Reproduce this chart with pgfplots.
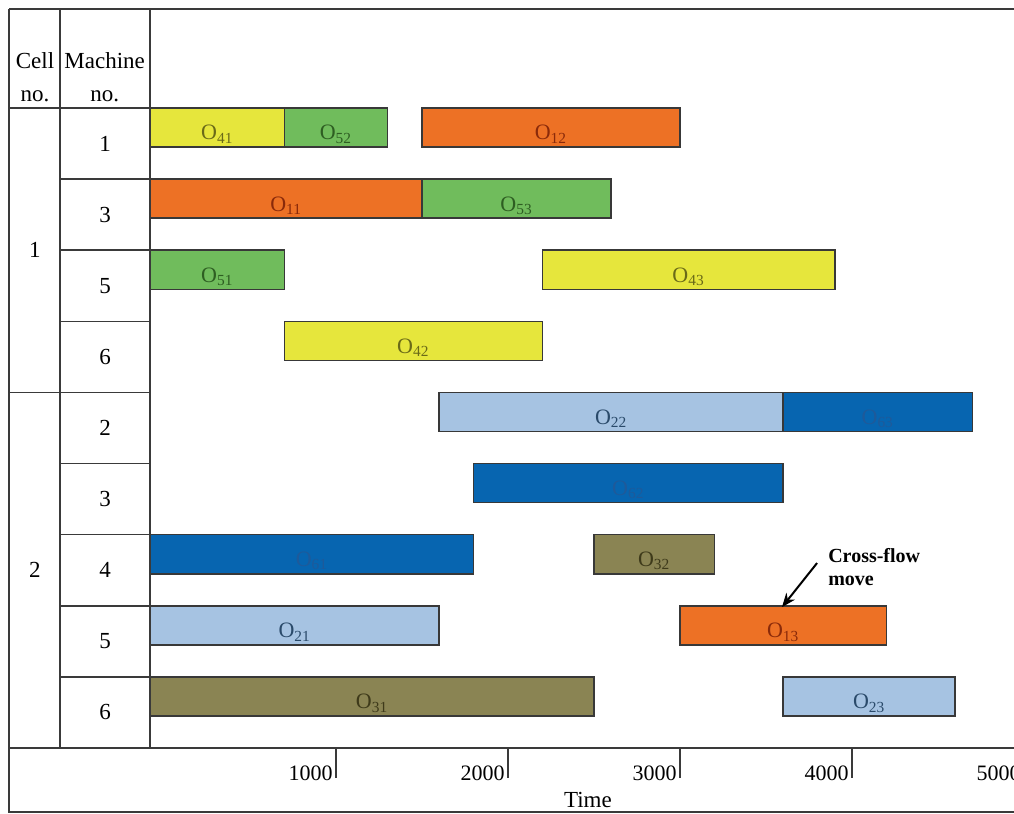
\documentclass[border=0pt]{standalone}
\usepackage{fontspec}
\setmainfont{Liberation Serif}
\usepackage{pgfplots}
\pgfplotsset{compat=1.18}
\usetikzlibrary{arrows.meta}
\definecolor{cyel}{HTML}{E6E63C}
\definecolor{cgrn}{HTML}{70BC5C}
\definecolor{corg}{HTML}{ED7125}
\definecolor{clbl}{HTML}{A6C3E2}
\definecolor{cdbl}{HTML}{0765B0}
\definecolor{coli}{HTML}{8A8453}
\definecolor{tyel}{HTML}{6A6A18}
\definecolor{tgrn}{HTML}{2E5E22}
\definecolor{torg}{HTML}{8A2A0A}
\definecolor{tlbl}{HTML}{2A4A6A}
\definecolor{tdbl}{HTML}{1E5A9A}
\definecolor{toli}{HTML}{3E3A1A}
\definecolor{grid}{HTML}{3A3A3A}
\definecolor{barline}{HTML}{383838}
% start, end, top, bottom, fill, text colour, subscript
\newcommand{\gbar}[7]{%
  \addplot[draw=barline, line width=0.8pt, fill=#5] coordinates {(#1,#3) (#2,#3) (#2,#4) (#1,#4)} -- cycle;
  \node[anchor=base, text=#6, font=\fontsize{11}{13}\selectfont, inner sep=0pt] at (axis cs:{(#1+#2)/2},{#4+0.1}) {O\textsubscript{#7}};
}
\newcommand{\hl}[3]{\draw[grid, line width=0.8pt] (axis cs:#1,#3) -- (axis cs:#2,#3);}
\begin{document}
\begin{tikzpicture}
\begin{axis}[
  scale only axis, width=436.9pt, height=320pt,
  xmin=-80, xmax=5000, ymin=0, ymax=9,
  clip=false,
  axis line style={draw=none},
  ytick=\empty,
  xtick={1000,2000,3000,4000,5000},
  xticklabels={1000,2000,3000,4000,5000},
  xtick pos=left,
  tick align=outside,
  major tick length=15pt,
  x tick style={grid, line width=0.75pt},
  xticklabel style={anchor=east, font=\fontsize{11}{13}\selectfont, inner sep=1.5pt, yshift=2.5pt},
  /pgf/number format/assume math mode=true,
]
% ---- bars (time in units of the axis, rows: top of row) ----
% cell 1, machine 1
\gbar{-80}{700}{9}{8.45}{cyel}{tyel}{41}
\gbar{700}{1300}{9}{8.45}{cgrn}{tgrn}{52}
\gbar{1500}{3000}{9}{8.45}{corg}{torg}{12}
% cell 1, machine 3
\gbar{-80}{1500}{8}{7.45}{corg}{torg}{11}
\gbar{1500}{2600}{8}{7.45}{cgrn}{tgrn}{53}
% cell 1, machine 5
\gbar{-80}{700}{7}{6.45}{cgrn}{tgrn}{51}
\gbar{2200}{3900}{7}{6.45}{cyel}{tyel}{43}
% cell 1, machine 6
\gbar{700}{2200}{6}{5.45}{cyel}{tyel}{42}
% cell 2, machine 2
\gbar{1600}{3600}{5}{4.45}{clbl}{tlbl}{22}
\gbar{3600}{4700}{5}{4.45}{cdbl}{tdbl}{63}
% cell 2, machine 3
\gbar{1800}{3600}{4}{3.45}{cdbl}{tdbl}{62}
% cell 2, machine 4
\gbar{-80}{1800}{3}{2.45}{cdbl}{tdbl}{61}
\gbar{2500}{3200}{3}{2.45}{coli}{toli}{32}
% cell 2, machine 5
\gbar{-80}{1600}{2}{1.45}{clbl}{tlbl}{21}
\gbar{3000}{4200}{2}{1.45}{corg}{torg}{13}
% cell 2, machine 6
\gbar{-80}{2500}{1}{0.45}{coli}{toli}{31}
\gbar{3600}{4600}{1}{0.45}{clbl}{tlbl}{23}

% ---- table frame ----
\draw[grid, line width=0.8pt] (axis cs:-901,10.392) -- (axis cs:5000,10.392);
\draw[grid, line width=0.8pt] (axis cs:-901,10.392) -- (axis cs:-901,-0.90) -- (axis cs:5000,-0.90);
\draw[grid, line width=0.8pt] (axis cs:-901,0) -- (axis cs:5000,0);
\draw[grid, line width=0.8pt] (axis cs:-605,10.392) -- (axis cs:-605,0);
\draw[grid, line width=0.8pt] (axis cs:-80,10.392) -- (axis cs:-80,0);
\hl{-901}{-80}{9}
\hl{-901}{-80}{5}
\hl{-605}{-80}{8}
\hl{-605}{-80}{7}
\hl{-605}{-80}{6}
\hl{-605}{-80}{4}
\hl{-605}{-80}{3}
\hl{-605}{-80}{2}
\hl{-605}{-80}{1}
% ---- header and row labels ----
\begin{scope}[font=\fontsize{11.5}{13}\selectfont]
\node at (axis cs:-750,9.66) {Cell};
\node at (axis cs:-750,9.17) {no.};
\node at (axis cs:-345,9.66) {Machine};
\node at (axis cs:-345,9.17) {no.};
\node at (axis cs:-750,7.0) {1};
\node at (axis cs:-750,2.5) {2};
\node at (axis cs:-343,8.5) {1};
\node at (axis cs:-343,7.5) {3};
\node at (axis cs:-343,6.5) {5};
\node at (axis cs:-343,5.5) {6};
\node at (axis cs:-343,4.5) {2};
\node at (axis cs:-343,3.5) {3};
\node at (axis cs:-343,2.5) {4};
\node at (axis cs:-343,1.5) {5};
\node at (axis cs:-343,0.5) {6};
\node at (axis cs:2465,-0.73) {Time};
\end{scope}
% ---- annotation ----
\node[anchor=west, align=left, font=\fontsize{10}{11.5}\selectfont\bfseries, inner sep=0pt] at (axis cs:3860,2.55) {Cross-flow\\move};
\draw[black, line width=1pt, -{Stealth[length=7pt,width=5.5pt]}] (axis cs:3797,2.60) -- (axis cs:3593,1.98);
% ---- page corners ----
\coordinate (bl) at (axis cs:-953.5,-0.928);
\coordinate (tr) at (axis cs:4942,10.519);
\end{axis}
\pgfresetboundingbox
\path[use as bounding box] (bl) rectangle (tr);
\end{tikzpicture}
\end{document}
